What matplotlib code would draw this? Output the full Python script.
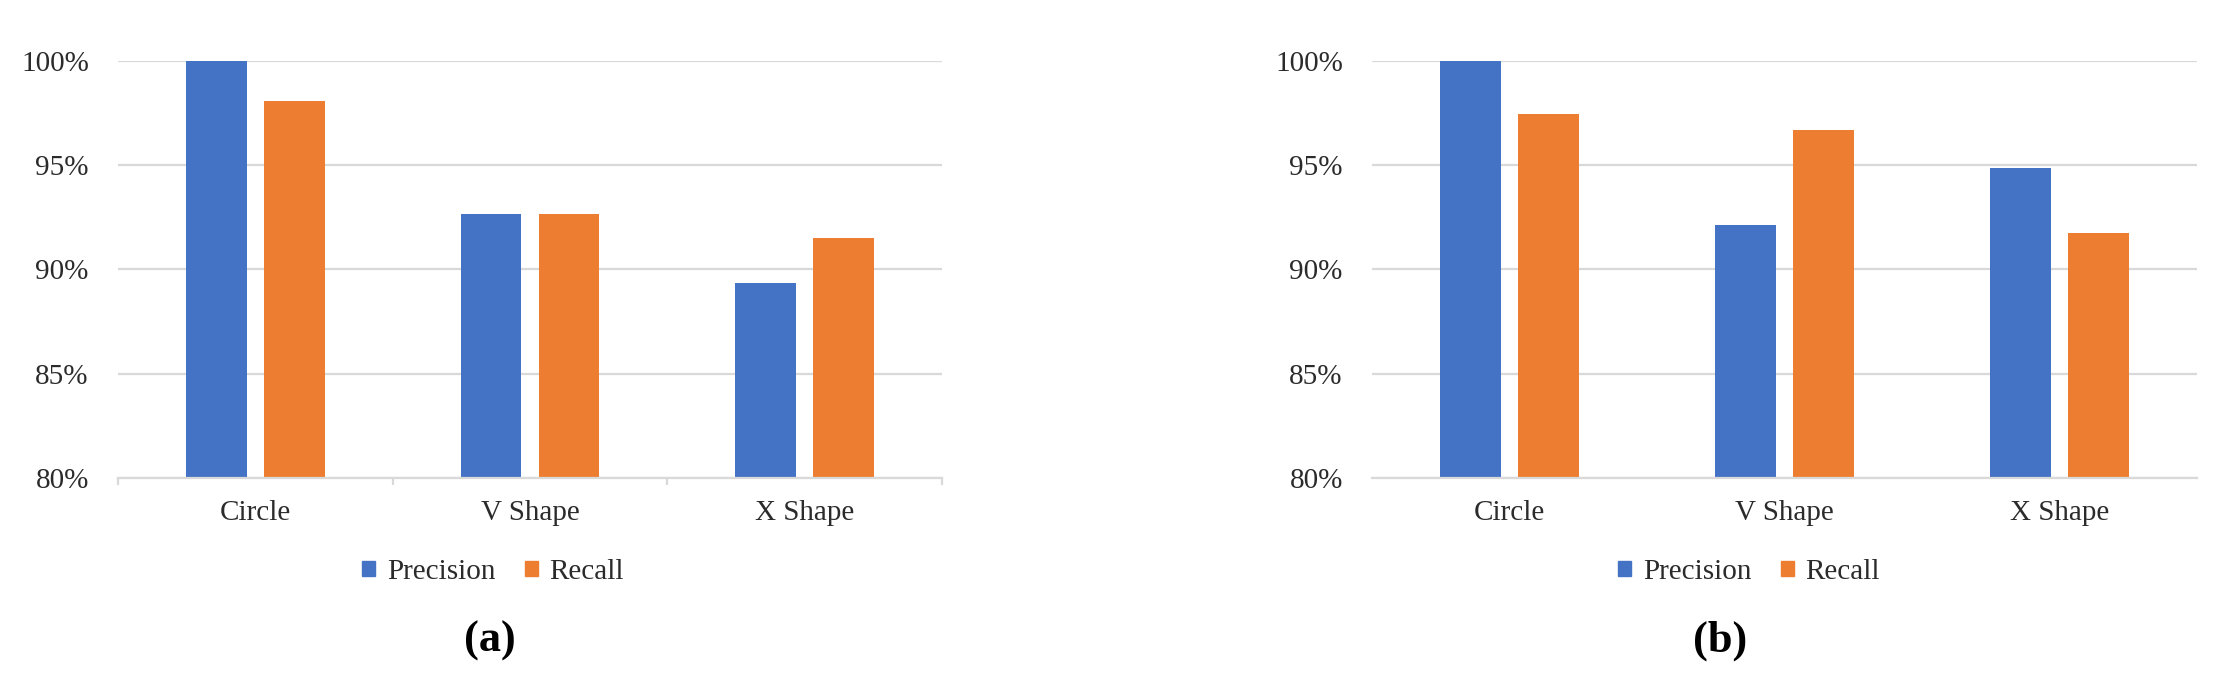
import matplotlib
matplotlib.use("Agg")
import matplotlib.pyplot as plt
from matplotlib.patches import Patch
import numpy as np

categories = ["Circle", "V Shape", "X Shape"]
precision_a = [100.0, 92.65, 89.35]
recall_a = [98.1, 92.65, 91.5]
precision_b = [100.0, 92.15, 94.85]
recall_b = [97.45, 96.7, 91.75]
yticks = [80, 85, 90, 95, 100]
panel_labels = ["(a)", "(b)"]
series_names = ["Precision", "Recall"]

BLUE = "#4472C4"
ORANGE = "#ED7D31"
GRID = "#d9d9d9"
TXT = "#2b2b2b"

plt.rcParams['font.family'] = ['Liberation Serif', 'DejaVu Serif']

W, H = 2218, 678
fig = plt.figure(figsize=(W / 100, H / 100), dpi=100)

panels = [
    dict(x0=118, x1=942, prec=precision_a, rec=recall_a, ticks=True, leg_x=493, lab_x=490),
    dict(x0=1372, x1=2197, prec=precision_b, rec=recall_b, ticks=False, leg_x=1749, lab_x=1720),
]
y_top, y_bot = 61, 478

for i, p in enumerate(panels):
    ax = fig.add_axes([p["x0"] / W, 1 - y_bot / H, (p["x1"] - p["x0"]) / W, (y_bot - y_top) / H])
    x = np.arange(len(categories))
    w = 0.22
    off = 0.142
    ax.bar(x - off, np.array(p["prec"]) - 80, width=w, bottom=80, color=BLUE, zorder=3)
    ax.bar(x + off, np.array(p["rec"]) - 80, width=w, bottom=80, color=ORANGE, zorder=3)
    ax.set_xlim(-0.5, 2.5)
    ax.set_ylim(80, 100)
    ax.set_yticks(yticks)
    ax.set_yticklabels([f"{v}%" for v in yticks])
    ax.set_xticks(x)
    ax.set_xticklabels(categories)
    for s in ["top", "right", "left"]:
        ax.spines[s].set_visible(False)
    ax.spines["bottom"].set_color(GRID)
    ax.spines["bottom"].set_linewidth(1.6)
    ax.spines["bottom"].set_zorder(4)
    ax.yaxis.grid(True, color=GRID, linewidth=1.6, zorder=0)
    ax.set_axisbelow(True)
    ax.tick_params(axis="y", length=0, pad=21, labelsize=21, labelcolor=TXT)
    ax.tick_params(axis="x", which="major", length=0, pad=16, labelsize=21, labelcolor=TXT)
    if p["ticks"]:
        ax.set_xticks([-0.5, 0.5, 1.5, 2.5], minor=True)
        ax.tick_params(axis="x", which="minor", length=5, width=1.6, color=GRID)
    fig.legend(handles=[Patch(color=BLUE, label=series_names[0]),
                        Patch(color=ORANGE, label=series_names[1])],
               loc="center", bbox_to_anchor=(p["leg_x"] / W, 1 - 572 / H),
               ncol=2, frameon=False, fontsize=21, handlelength=0.45, handleheight=0.45,
               handletextpad=0.4, columnspacing=1.0, labelcolor=TXT)
    fig.text(p["lab_x"] / W, 1 - 641 / H, panel_labels[i], ha="center", va="center",
             fontsize=32, fontweight="bold", color="black")

fig.savefig("out.png", dpi=100, facecolor="white")
